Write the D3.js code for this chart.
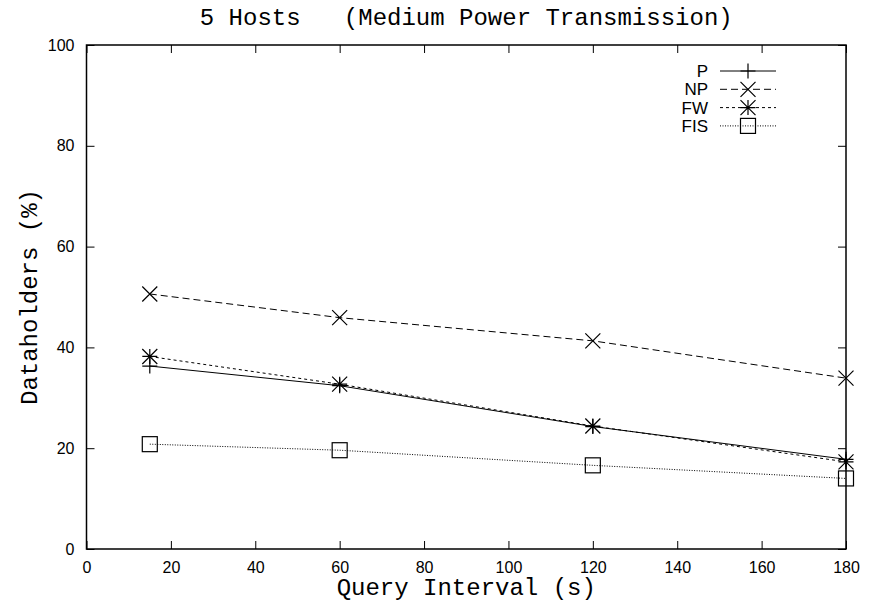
<!DOCTYPE html>
<html>
<head>
<meta charset="utf-8">
<script src="https://cdnjs.cloudflare.com/ajax/libs/d3/7.8.5/d3.min.js"></script>
<style>
  body { margin: 0; background: #fff; }
  svg { display: block; }
</style>
</head>
<body>
<script>
  var queryIntervals = [15, 60, 120, 180];
  var seriesNames = ["P", "NP", "FW", "FIS"];
  var pValues   = [36.3, 32.4, 24.3, 17.8];
  var npValues  = [50.6, 45.9, 41.3, 33.9];
  var fwValues  = [38.2, 32.7, 24.4, 17.3];
  var fisValues = [20.8, 19.6, 16.6, 14.0];
  var xTicks = [0, 20, 40, 60, 80, 100, 120, 140, 160, 180];
  var yTicks = [0, 20, 40, 60, 80, 100];

  var series = [
    { name: seriesNames[0], values: pValues,   dash: null,    marker: "plus" },
    { name: seriesNames[1], values: npValues,  dash: "7,4",   marker: "cross" },
    { name: seriesNames[2], values: fwValues,  dash: "3,3",   marker: "star" },
    { name: seriesNames[3], values: fisValues, dash: "1,1.5", marker: "box" }
  ];

  var width = 872, height = 605;
  // note: "top" is reserved on window, so plot edges get their own names
  var plotL = 86.5, plotR = 846, plotT = 45, plotB = 549;

  var svg = d3.select("body").append("svg")
              .attr("width", width)
              .attr("height", height);

  var x = d3.scaleLinear().domain([0, 180]).range([plotL, plotR]);
  var y = d3.scaleLinear().domain([0, 100]).range([plotB, plotT]);

  var mono = "'Liberation Mono', 'Courier New', monospace";
  var sans = "'Liberation Sans', Arial, Helvetica, sans-serif";

  // title
  svg.append("text")
     .attr("x", (plotL + plotR) / 2)
     .attr("y", 25)
     .attr("text-anchor", "middle")
     .style("white-space", "pre")
     .style("font-family", mono)
     .style("font-size", "24px")
     .text("5 Hosts   (Medium Power Transmission)");

  // axes (ticks on all four sides, pointing inward)
  var tickLen = 8;
  svg.append("g")
     .attr("transform", "translate(0," + plotB + ")")
     .call(d3.axisBottom(x).tickValues(xTicks).tickSizeInner(-tickLen).tickSizeOuter(0).tickPadding(13));
  svg.append("g")
     .attr("transform", "translate(0," + plotT + ")")
     .call(d3.axisTop(x).tickValues(xTicks).tickSizeInner(-tickLen).tickSizeOuter(0).tickFormat(""));
  svg.append("g")
     .attr("transform", "translate(" + plotL + ",0)")
     .call(d3.axisLeft(y).tickValues(yTicks).tickSizeInner(-tickLen).tickSizeOuter(0).tickPadding(12));
  svg.append("g")
     .attr("transform", "translate(" + plotR + ",0)")
     .call(d3.axisRight(y).tickValues(yTicks).tickSizeInner(-tickLen).tickSizeOuter(0).tickFormat(""));

  svg.selectAll(".domain").remove();
  svg.selectAll(".tick line").attr("stroke", "#000").attr("stroke-width", 1);
  svg.selectAll(".tick text")
     .style("font-family", sans)
     .style("font-size", "16px")
     .attr("fill", "#000");

  // frame
  svg.append("rect")
     .attr("x", plotL).attr("y", plotT)
     .attr("width", plotR - plotL).attr("height", plotB - plotT)
     .attr("fill", "none")
     .attr("stroke", "#000")
     .attr("stroke-width", 1.5);

  // axis labels
  svg.append("text")
     .attr("x", (plotL + plotR) / 2)
     .attr("y", 595)
     .attr("text-anchor", "middle")
     .style("white-space", "pre")
     .style("font-family", mono)
     .style("font-size", "24px")
     .text("Query Interval (s)");

  svg.append("text")
     .attr("transform", "translate(37," + ((plotT + plotB) / 2) + ") rotate(-90)")
     .attr("text-anchor", "middle")
     .style("white-space", "pre")
     .style("font-family", mono)
     .style("font-size", "24px")
     .text("Dataholders (%)");

  function drawMarker(g, type, cx, cy) {
    var s = 7.5;
    var p = "";
    if (type == "box") {
      g.append("rect")
       .attr("x", cx - s).attr("y", cy - s)
       .attr("width", 2 * s).attr("height", 2 * s)
       .attr("fill", "none")
       .attr("stroke", "#000")
       .attr("stroke-width", 1.2);
      return;
    }
    if (type == "plus" || type == "star") {
      p += "M" + (cx - s) + "," + cy + "H" + (cx + s) + "M" + cx + "," + (cy - s) + "V" + (cy + s);
    }
    if (type == "cross" || type == "star") {
      p += "M" + (cx - s) + "," + (cy - s) + "L" + (cx + s) + "," + (cy + s) +
           "M" + (cx - s) + "," + (cy + s) + "L" + (cx + s) + "," + (cy - s);
    }
    g.append("path")
     .attr("d", p)
     .attr("fill", "none")
     .attr("stroke", "#000")
     .attr("stroke-width", 1.2);
  }

  var line = d3.line()
               .x(function(d) { return x(d[0]); })
               .y(function(d) { return y(d[1]); });

  var plot = svg.append("g");

  series.forEach(function(s) {
    var pts = queryIntervals.map(function(q, i) { return [q, s.values[i]]; });
    plot.append("path")
        .attr("d", line(pts))
        .attr("fill", "none")
        .attr("stroke", "#000")
        .attr("stroke-width", 1)
        .attr("stroke-dasharray", s.dash);
    pts.forEach(function(d) {
      drawMarker(plot, s.marker, x(d[0]), y(d[1]));
    });
  });

  // legend
  var legend = svg.append("g");
  series.forEach(function(s, i) {
    var ly = 71 + i * 18.3;
    legend.append("text")
          .attr("x", 708)
          .attr("y", ly)
          .attr("dy", "0.36em")
          .attr("text-anchor", "end")
          .style("font-family", sans)
          .style("font-size", "17px")
          .text(s.name);
    legend.append("line")
          .attr("x1", 720).attr("x2", 776)
          .attr("y1", ly).attr("y2", ly)
          .attr("stroke", "#000")
          .attr("stroke-width", 1)
          .attr("stroke-dasharray", s.dash);
    drawMarker(legend, s.marker, 748, ly);
  });
</script>
</body>
</html>
